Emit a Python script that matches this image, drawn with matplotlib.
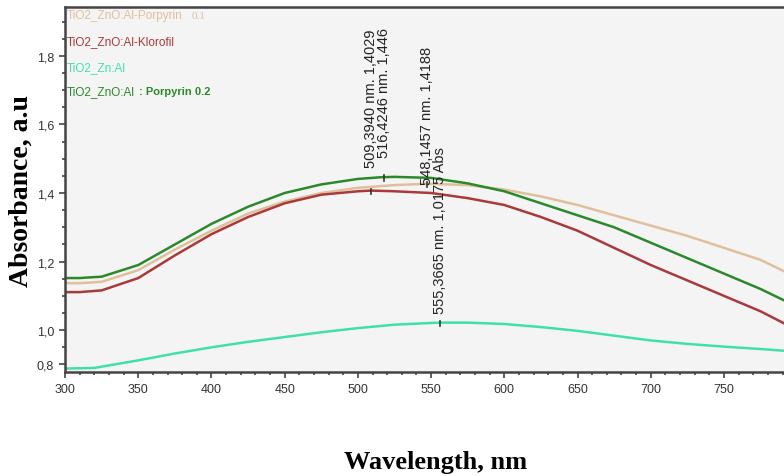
import matplotlib
matplotlib.use("Agg")
import matplotlib.pyplot as plt
from matplotlib.ticker import MultipleLocator

wl_green = [300, 310, 325, 350, 375, 400, 425, 450, 475, 500, 516, 525, 550, 575, 600, 625, 650, 675, 700, 725, 750, 775, 791]
abs_green = [1.152, 1.152, 1.156, 1.19, 1.25, 1.31, 1.36, 1.40, 1.425, 1.441, 1.446, 1.447, 1.444, 1.428, 1.405, 1.37, 1.335, 1.30, 1.255, 1.21, 1.165, 1.12, 1.087]

wl_tan = [300, 310, 325, 350, 375, 400, 425, 450, 475, 500, 525, 548, 575, 600, 625, 650, 675, 700, 725, 750, 775, 791]
abs_tan = [1.137, 1.137, 1.141, 1.175, 1.235, 1.29, 1.34, 1.375, 1.40, 1.415, 1.423, 1.427, 1.423, 1.41, 1.39, 1.365, 1.335, 1.305, 1.275, 1.24, 1.205, 1.172]

wl_red = [300, 310, 325, 350, 375, 400, 425, 450, 475, 500, 509, 525, 550, 575, 600, 625, 650, 675, 700, 725, 750, 775, 791]
abs_red = [1.111, 1.111, 1.116, 1.152, 1.218, 1.28, 1.33, 1.37, 1.395, 1.405, 1.407, 1.405, 1.40, 1.385, 1.365, 1.33, 1.29, 1.24, 1.19, 1.145, 1.10, 1.055, 1.02]

wl_teal = [300, 320, 350, 375, 400, 425, 450, 475, 500, 525, 555, 575, 600, 625, 650, 675, 700, 725, 750, 775, 791]
abs_teal = [0.888, 0.89, 0.912, 0.932, 0.95, 0.966, 0.98, 0.994, 1.006, 1.016, 1.022, 1.022, 1.018, 1.009, 0.998, 0.984, 0.97, 0.96, 0.952, 0.945, 0.94]

series_names = ["TiO2_ZnO:Al-Porpyrin", "TiO2_ZnO:Al-Klorofil", "TiO2_Zn:Al", "TiO2_ZnO:Al"]
series_colors = ["#e0c09c", "#aa3a3a", "#40e0ae", "#2a8a2a"]

xticks = [300, 350, 400, 450, 500, 550, 600, 650, 700, 750]
yticks = [0.9, 1.0, 1.2, 1.4, 1.6, 1.8]
ytick_labels = ["0,8", "1,0", "1,2", "1,4", "1,6", "1,8"]

# Anotaciones de picos: (x, y_texto, y_marca, texto)
peak_notes = [
    (509.2, 1.475, 1.407, "509,3940 nm. 1,4029"),
    (517.8, 1.505, 1.446, "516,4246 nm. 1,446"),
    (547.4, 1.425, 1.427, "548,1457 nm. 1,4188"),
    (555.8, 1.05, 1.022, "555,3665 nm. 1,0175 Abs"),
]

sans = ["Liberation Sans", "DejaVu Sans"]

fig = plt.figure(figsize=(7.84, 4.77), dpi=100)
ax = fig.add_axes([0.083, 0.218, 0.917, 0.765])
ax.set_facecolor("#f4f4f4")

ax.plot(wl_tan, abs_tan, color=series_colors[0], lw=1.8)
ax.plot(wl_red, abs_red, color=series_colors[1], lw=1.8)
ax.plot(wl_teal, abs_teal, color=series_colors[2], lw=1.8)
ax.plot(wl_green, abs_green, color=series_colors[3], lw=1.8)

ax.set_xlim(300, 791)
ax.set_ylim(0.878, 1.942)
ax.set_xticks(xticks)
ax.set_xticklabels([str(t) for t in xticks], fontfamily=sans, fontsize=9, color="#333333")
ax.set_yticks(yticks)
ax.set_yticklabels(ytick_labels, fontfamily=sans, fontsize=9, color="#333333")
ax.xaxis.set_minor_locator(MultipleLocator(10))
ax.yaxis.set_minor_locator(MultipleLocator(0.05))
ax.tick_params(which="both", direction="out", color="#444444", width=1.2)
ax.tick_params(which="major", length=4, pad=4)
ax.tick_params(which="minor", length=2)

for s in ["left", "bottom", "top"]:
    ax.spines[s].set_color("#444444")
    ax.spines[s].set_linewidth(1.8)
ax.spines["right"].set_visible(False)

# Leyenda como texto coloreado
leg_y = [0.978, 0.907, 0.836, 0.770]
ax.text(0.002, leg_y[0], series_names[0], transform=ax.transAxes, color=series_colors[0],
        fontfamily=sans, fontsize=8.5, va="center")
ax.text(0.176, leg_y[0], "0.1", transform=ax.transAxes, color=series_colors[0],
        fontfamily="Liberation Serif", fontsize=8, va="center")
ax.text(0.002, leg_y[1], series_names[1], transform=ax.transAxes, color=series_colors[1],
        fontfamily=sans, fontsize=8.5, va="center")
ax.text(0.002, leg_y[2], series_names[2], transform=ax.transAxes, color=series_colors[2],
        fontfamily=sans, fontsize=8.5, va="center")
ax.text(0.002, leg_y[3], series_names[3], transform=ax.transAxes, color=series_colors[3],
        fontfamily=sans, fontsize=8.5, va="center")
ax.text(0.103, leg_y[3], ": Porpyrin 0.2", transform=ax.transAxes, color=series_colors[3],
        fontfamily=sans, fontsize=8, fontweight="bold", va="center")

for x, y_txt, y_mark, txt in peak_notes:
    ax.text(x, y_txt, txt, rotation=90, ha="center", va="bottom", fontsize=10.5,
            fontfamily=sans, color="#222222", clip_on=True)
    ax.plot([x, x], [y_mark - 0.01, y_mark + 0.006], color="#333333", lw=1.2)

fig.text(0.027, 0.60, "Absorbance, a.u", rotation=90, ha="center", va="center",
         fontfamily="Liberation Serif", fontweight="bold", fontsize=20)
fig.text(0.555, 0.03, "Wavelength, nm", ha="center", va="center",
         fontfamily="Liberation Serif", fontweight="bold", fontsize=19)

fig.savefig("out.png", dpi=100)
